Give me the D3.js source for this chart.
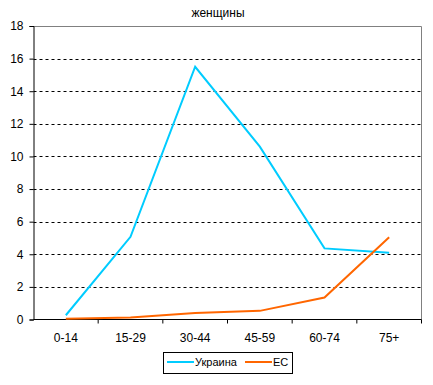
<!DOCTYPE html>
<html>
<head>
<meta charset="utf-8">
<script src="https://cdn.jsdelivr.net/npm/d3@7"></script>
<style>
  body { margin: 0; background: #fff; }
  text { font-family: "Liberation Sans", Arial, sans-serif; fill: #000; }
</style>
</head>
<body>
<svg id="chart" width="433" height="385"></svg>
<script>
const categories = ['0-14', '15-29', '30-44', '45-59', '60-74', '75+'];
const ukraine = [0.26, 5.07, 15.5, 10.6, 4.36, 4.09];
const eu = [0.04, 0.12, 0.4, 0.53, 1.35, 5.04];
const yTicks = [0, 2, 4, 6, 8, 10, 12, 14, 16, 18];
const seriesNames = ['Украина', 'ЕС'];

const plotLeft = 33.5, plotRight = 421.5, plotTop = 26, plotBottom = 319.5;

const color = d3.scaleOrdinal()
  .domain(seriesNames)
  .range(['#00ccff', '#ff6600']);

const xscale = d3.scaleBand()
  .domain(categories)
  .range([plotLeft, plotRight]);

const yscale = d3.scaleLinear()
  .domain([0, 18])
  .range([plotBottom, plotTop]);

const svg = d3.select('#chart');

svg.append('text')
  .text('женщины')
  .attr('x', 218)
  .attr('y', 17)
  .attr('text-anchor', 'middle')
  .style('font-size', '12px');

// dashed grid
svg.append('g')
  .selectAll('line')
  .data(yTicks.filter((d) => d > 0 && d < 18))
  .enter().append('line')
    .attr('x1', plotLeft)
    .attr('x2', plotRight)
    .attr('y1', (d) => Math.round(yscale(d)) + 0.5)
    .attr('y2', (d) => Math.round(yscale(d)) + 0.5)
    .attr('stroke', '#000')
    .attr('stroke-dasharray', '3,3');

// gray frame top + right
svg.append('path')
  .attr('d', `M${plotLeft},${plotTop + 0.5}H${plotRight}V${plotBottom}`)
  .attr('fill', 'none')
  .attr('stroke', '#808080');

const leftAxis = d3.axisLeft(yscale)
  .tickValues(yTicks)
  .tickSize(4)
  .tickPadding(6);

const ya = svg.append('g')
  .attr('transform', `translate(${plotLeft}, 0)`)
  .call(leftAxis);
ya.select('.domain').attr('stroke', '#000');
ya.selectAll('text').style('font-size', '12px').attr('font-family', null);

const bottomAxis = d3.axisBottom(xscale)
  .tickSize(0)
  .tickPadding(14);

const xa = svg.append('g')
  .attr('transform', `translate(0, ${plotBottom})`)
  .call(bottomAxis);
xa.select('.domain').remove();
xa.selectAll('text').style('font-size', '12px').attr('font-family', null);

svg.append('line')
  .attr('x1', plotLeft).attr('x2', plotRight)
  .attr('y1', plotBottom).attr('y2', plotBottom)
  .attr('stroke', '#000');

// x tick marks at band boundaries
svg.append('g')
  .selectAll('line')
  .data(categories)
  .enter().append('line')
    .attr('x1', (d) => xscale(d) + xscale.bandwidth())
    .attr('x2', (d) => xscale(d) + xscale.bandwidth())
    .attr('y1', plotBottom)
    .attr('y2', plotBottom + 4)
    .attr('stroke', '#000');

const line = d3.line()
  .x((d, i) => xscale(categories[i]) + xscale.bandwidth() / 2)
  .y((d) => yscale(d));

[ukraine, eu].forEach((vals, i) => {
  svg.append('path')
    .datum(vals)
    .attr('d', line)
    .attr('fill', 'none')
    .attr('stroke', color(seriesNames[i]))
    .attr('stroke-width', 2);
});

// legend
const legend = svg.append('g');
legend.append('rect')
  .attr('x', 163.5).attr('y', 352.5)
  .attr('width', 129).attr('height', 21)
  .attr('fill', '#fff')
  .attr('stroke', '#000');

const legX = [167, 245];
seriesNames.forEach((name, i) => {
  legend.append('line')
    .attr('x1', legX[i]).attr('x2', legX[i] + 27)
    .attr('y1', 362).attr('y2', 362)
    .attr('stroke', color(name))
    .attr('stroke-width', 2);
  legend.append('text')
    .text(name)
    .attr('x', legX[i] + 28)
    .attr('y', 365.5)
    .style('font-size', '11px');
});
</script>
</body>
</html>
